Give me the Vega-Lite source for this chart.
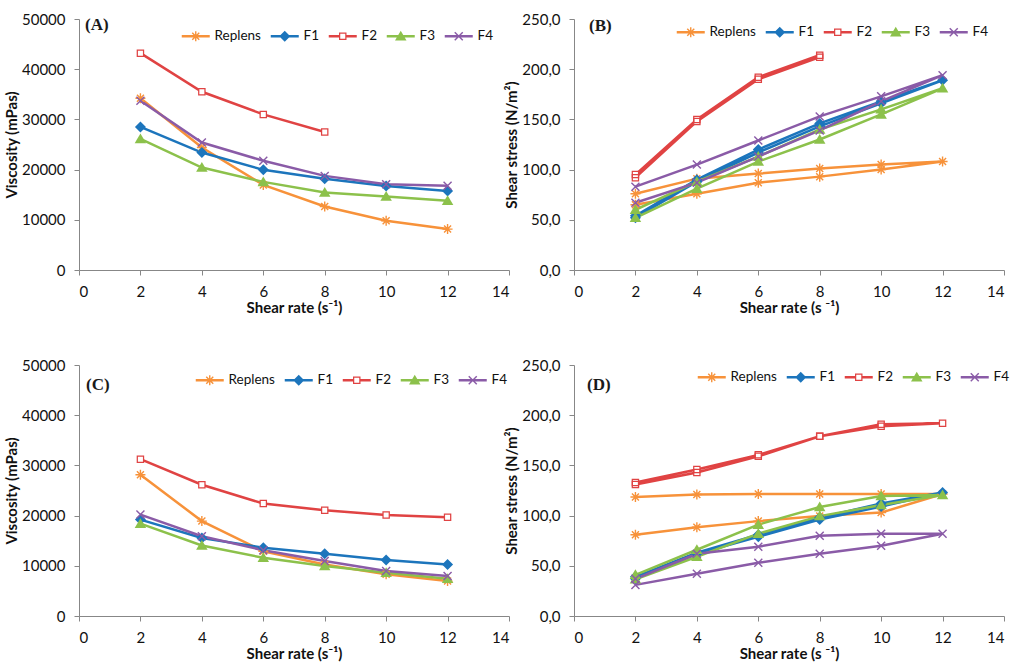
{
  "$schema": "https://vega.github.io/schema/vega-lite/v6.json",
  "background": "white",
  "padding": {"left": 4, "top": 12, "right": 5, "bottom": 5},
  "datasets": {
    "A": [
      {"series":"Replens","rate":2,"value":34200,"o":1},{"series":"Replens","rate":4,"value":24400,"o":2},{"series":"Replens","rate":6,"value":16950,"o":3},{"series":"Replens","rate":8,"value":12650,"o":4},{"series":"Replens","rate":10,"value":9800,"o":5},{"series":"Replens","rate":12,"value":8150,"o":6},
      {"series":"F1","rate":2,"value":28500,"o":1},{"series":"F1","rate":4,"value":23400,"o":2},{"series":"F1","rate":6,"value":19950,"o":3},{"series":"F1","rate":8,"value":18200,"o":4},{"series":"F1","rate":10,"value":16750,"o":5},{"series":"F1","rate":12,"value":15750,"o":6},
      {"series":"F2","rate":2,"value":43200,"o":1},{"series":"F2","rate":4,"value":35500,"o":2},{"series":"F2","rate":6,"value":31000,"o":3},{"series":"F2","rate":8,"value":27500,"o":4},
      {"series":"F3","rate":2,"value":26100,"o":1},{"series":"F3","rate":4,"value":20400,"o":2},{"series":"F3","rate":6,"value":17550,"o":3},{"series":"F3","rate":8,"value":15450,"o":4},{"series":"F3","rate":10,"value":14650,"o":5},{"series":"F3","rate":12,"value":13800,"o":6},
      {"series":"F4","rate":2,"value":33700,"o":1},{"series":"F4","rate":4,"value":25400,"o":2},{"series":"F4","rate":6,"value":21750,"o":3},{"series":"F4","rate":8,"value":18750,"o":4},{"series":"F4","rate":10,"value":17100,"o":5},{"series":"F4","rate":12,"value":16800,"o":6}
    ],
    "C": [
      {"series":"Replens","rate":2,"value":28150,"o":1},{"series":"Replens","rate":4,"value":18900,"o":2},{"series":"Replens","rate":6,"value":12900,"o":3},{"series":"Replens","rate":8,"value":10260,"o":4},{"series":"Replens","rate":10,"value":8300,"o":5},{"series":"Replens","rate":12,"value":6950,"o":6},
      {"series":"F1","rate":2,"value":19200,"o":1},{"series":"F1","rate":4,"value":15550,"o":2},{"series":"F1","rate":6,"value":13600,"o":3},{"series":"F1","rate":8,"value":12400,"o":4},{"series":"F1","rate":10,"value":11150,"o":5},{"series":"F1","rate":12,"value":10250,"o":6},
      {"series":"F2","rate":2,"value":31250,"o":1},{"series":"F2","rate":4,"value":26150,"o":2},{"series":"F2","rate":6,"value":22400,"o":3},{"series":"F2","rate":8,"value":21050,"o":4},{"series":"F2","rate":10,"value":20100,"o":5},{"series":"F2","rate":12,"value":19650,"o":6},
      {"series":"F3","rate":2,"value":18400,"o":1},{"series":"F3","rate":4,"value":14050,"o":2},{"series":"F3","rate":6,"value":11600,"o":3},{"series":"F3","rate":8,"value":9950,"o":4},{"series":"F3","rate":10,"value":8600,"o":5},{"series":"F3","rate":12,"value":7400,"o":6},
      {"series":"F4","rate":2,"value":20200,"o":1},{"series":"F4","rate":4,"value":15900,"o":2},{"series":"F4","rate":6,"value":13100,"o":3},{"series":"F4","rate":8,"value":10950,"o":4},{"series":"F4","rate":10,"value":8950,"o":5},{"series":"F4","rate":12,"value":7950,"o":6}
    ],
    "B": [
      {"series":"Replens","rate":2,"value":65,"o":1},{"series":"Replens","rate":4,"value":76,"o":2},{"series":"Replens","rate":6,"value":87,"o":3},{"series":"Replens","rate":8,"value":93,"o":4},{"series":"Replens","rate":10,"value":100,"o":5},{"series":"Replens","rate":12,"value":108,"o":6},{"series":"Replens","rate":10,"value":105,"o":7},{"series":"Replens","rate":8,"value":101,"o":8},{"series":"Replens","rate":6,"value":96,"o":9},{"series":"Replens","rate":4,"value":91,"o":10},{"series":"Replens","rate":2,"value":76,"o":11},
      {"series":"F1","rate":2,"value":52,"o":1},{"series":"F1","rate":4,"value":88,"o":2},{"series":"F1","rate":6,"value":117,"o":3},{"series":"F1","rate":8,"value":143,"o":4},{"series":"F1","rate":10,"value":166,"o":5},{"series":"F1","rate":12,"value":189,"o":6},{"series":"F1","rate":10,"value":168,"o":7},{"series":"F1","rate":8,"value":146,"o":8},{"series":"F1","rate":6,"value":120,"o":9},{"series":"F1","rate":4,"value":90,"o":10},{"series":"F1","rate":2,"value":54,"o":11},
      {"series":"F2","rate":2,"value":92,"o":1},{"series":"F2","rate":4,"value":148,"o":2},{"series":"F2","rate":6,"value":190,"o":3},{"series":"F2","rate":8,"value":212,"o":4},{"series":"F2","rate":8,"value":214,"o":5},{"series":"F2","rate":6,"value":192,"o":6},{"series":"F2","rate":4,"value":150,"o":7},{"series":"F2","rate":2,"value":95,"o":8},
      {"series":"F3","rate":2,"value":52,"o":1},{"series":"F3","rate":4,"value":81,"o":2},{"series":"F3","rate":6,"value":108,"o":3},{"series":"F3","rate":8,"value":130,"o":4},{"series":"F3","rate":10,"value":155,"o":5},{"series":"F3","rate":12,"value":181,"o":6},{"series":"F3","rate":10,"value":160,"o":7},{"series":"F3","rate":8,"value":140,"o":8},{"series":"F3","rate":6,"value":113,"o":9},{"series":"F3","rate":4,"value":88,"o":10},{"series":"F3","rate":2,"value":60,"o":11},
      {"series":"F4","rate":2,"value":67,"o":1},{"series":"F4","rate":4,"value":87,"o":2},{"series":"F4","rate":6,"value":113,"o":3},{"series":"F4","rate":8,"value":139,"o":4},{"series":"F4","rate":10,"value":168,"o":5},{"series":"F4","rate":12,"value":194,"o":6},{"series":"F4","rate":10,"value":173,"o":7},{"series":"F4","rate":8,"value":153,"o":8},{"series":"F4","rate":6,"value":129,"o":9},{"series":"F4","rate":4,"value":105,"o":10},{"series":"F4","rate":2,"value":83,"o":11}
    ],
    "D": [
      {"series":"Replens","rate":2,"value":81,"o":1},{"series":"Replens","rate":4,"value":88.5,"o":2},{"series":"Replens","rate":6,"value":94.5,"o":3},{"series":"Replens","rate":8,"value":99.5,"o":4},{"series":"Replens","rate":10,"value":103,"o":5},{"series":"Replens","rate":12,"value":121.5,"o":6},{"series":"Replens","rate":10,"value":121.5,"o":7},{"series":"Replens","rate":8,"value":121.5,"o":8},{"series":"Replens","rate":6,"value":121.5,"o":9},{"series":"Replens","rate":4,"value":121,"o":10},{"series":"Replens","rate":2,"value":118.5,"o":11},
      {"series":"F1","rate":2,"value":37,"o":1},{"series":"F1","rate":4,"value":62,"o":2},{"series":"F1","rate":6,"value":79,"o":3},{"series":"F1","rate":8,"value":96,"o":4},{"series":"F1","rate":10,"value":109,"o":5},{"series":"F1","rate":12,"value":123,"o":6},{"series":"F1","rate":10,"value":112,"o":7},{"series":"F1","rate":8,"value":98,"o":8},{"series":"F1","rate":6,"value":81,"o":9},{"series":"F1","rate":4,"value":63,"o":10},{"series":"F1","rate":2,"value":39,"o":11},
      {"series":"F2","rate":2,"value":131,"o":1},{"series":"F2","rate":4,"value":143,"o":2},{"series":"F2","rate":6,"value":159,"o":3},{"series":"F2","rate":8,"value":179,"o":4},{"series":"F2","rate":10,"value":189,"o":5},{"series":"F2","rate":12,"value":192,"o":6},{"series":"F2","rate":10,"value":191,"o":7},{"series":"F2","rate":8,"value":179,"o":8},{"series":"F2","rate":6,"value":160.5,"o":9},{"series":"F2","rate":4,"value":146,"o":10},{"series":"F2","rate":2,"value":133,"o":11},
      {"series":"F3","rate":2,"value":36.5,"o":1},{"series":"F3","rate":4,"value":59,"o":2},{"series":"F3","rate":6,"value":82,"o":3},{"series":"F3","rate":8,"value":99.5,"o":4},{"series":"F3","rate":10,"value":110.5,"o":5},{"series":"F3","rate":12,"value":120.5,"o":6},{"series":"F3","rate":10,"value":119.5,"o":7},{"series":"F3","rate":8,"value":108.5,"o":8},{"series":"F3","rate":6,"value":91,"o":9},{"series":"F3","rate":4,"value":66,"o":10},{"series":"F3","rate":2,"value":41,"o":11},
      {"series":"F4","rate":2,"value":31,"o":1},{"series":"F4","rate":4,"value":42,"o":2},{"series":"F4","rate":6,"value":53,"o":3},{"series":"F4","rate":8,"value":62,"o":4},{"series":"F4","rate":10,"value":70,"o":5},{"series":"F4","rate":12,"value":82,"o":6},{"series":"F4","rate":10,"value":82,"o":7},{"series":"F4","rate":8,"value":80,"o":8},{"series":"F4","rate":6,"value":69,"o":9},{"series":"F4","rate":4,"value":62,"o":10},{"series":"F4","rate":2,"value":37,"o":11}
    ]
  },
  "columns": 2,
  "spacing": {"row": 95, "column": 65},
  "bounds": "flush",
  "concat": [
    {
      "width": 430, "height": 251,
      "data": {"name": "A"},
      "title": {"text": "(A)", "anchor": "start", "frame": "group", "orient": "top", "offset": -35, "dx": 6, "baseline": "alphabetic", "font": "Liberation Serif", "fontSize": 17, "fontWeight": "bold", "color": "#1a1a1a"},
      "encoding": {
        "x": {"field": "rate", "type": "quantitative", "scale": {"domain": [0, 14], "nice": false}, "axis": {"values": [0,2,4,6,8,10,12,14], "title": "Shear rate (s⁻¹)"}},
        "y": {"field": "value", "type": "quantitative", "scale": {"domain": [0, 50000], "nice": false}, "axis": {"values": [0,10000,20000,30000,40000,50000], "format": "d", "title": "Viscosity (mPas)"}}
      },
      "layer": [
        {"mark": {"type": "line", "strokeWidth": 2.5}, "encoding": {"color": {"field": "series", "type": "nominal", "scale": {"domain": ["Replens","F1","F2","F3","F4"], "range": ["#F7923A","#1C75BC","#E04343","#8CC14B","#8A5BA7"]}, "legend": null}, "order": {"field": "o", "type": "quantitative"}}},
        {"transform": [{"filter": "datum.series === 'F2'"}], "mark": {"type": "point", "shape": "square", "filled": true, "color": "white", "opacity": 1, "size": 40}},
        {"mark": {"type": "point", "filled": true, "opacity": 1, "size": 100}, "encoding": {
          "color": {"field": "series", "type": "nominal", "scale": {"domain": ["Replens","F1","F2","F3","F4"], "range": ["#F7923A","#1C75BC","#E04343","#8CC14B","#8A5BA7"]}, "legend": null},
          "shape": {"field": "series", "type": "nominal", "scale": {"domain": ["Replens","F1","F2","F3","F4"], "range": [
            "M-1,0.14L1,0.14L1,-0.14L-1,-0.14ZM-0.14,-1L-0.14,1L0.14,1L0.14,-1ZM-0.8,-0.6L0.6,0.8L0.8,0.6L-0.6,-0.8ZM0.6,-0.8L-0.8,0.6L-0.6,0.8L0.8,-0.6Z",
            "M0,-1.1L-1.1,0L0,1.1L1.1,0Z",
            "M-0.75,-0.75L0.75,-0.75L0.75,0.75L-0.75,0.75ZM-0.5,-0.5L-0.5,0.5L0.5,0.5L0.5,-0.5Z",
            "M0,-1.1L-1.15,0.85L1.15,0.85Z",
            "M-0.9,-0.7L0.7,0.9L0.9,0.7L-0.7,-0.9ZM0.7,-0.9L-0.9,0.7L-0.7,0.9L0.9,-0.7Z"]}, "legend": null}}},
        {"mark": {"type": "point", "filled": true, "opacity": 0, "size": 100}, "encoding": {
          "color": {"field": "series", "type": "nominal", "scale": {"domain": ["Replens","F1","F2","F3","F4"], "range": ["#F7923A","#1C75BC","#E04343","#8CC14B","#8A5BA7"]}, "legend": {"orient": "none", "legendX": 110, "legendY": 10, "direction": "horizontal", "columns": 5, "title": null}},
          "shape": {"field": "series", "type": "nominal", "scale": {"domain": ["Replens","F1","F2","F3","F4"], "range": [
            "M-1,0.14L1,0.14L1,-0.14L-1,-0.14ZM-0.14,-1L-0.14,1L0.14,1L0.14,-1ZM-0.8,-0.6L0.6,0.8L0.8,0.6L-0.6,-0.8ZM0.6,-0.8L-0.8,0.6L-0.6,0.8L0.8,-0.6ZM-2.8,0.25L2.8,0.25L2.8,-0.25L-2.8,-0.25Z",
            "M0,-1.1L-1.1,0L0,1.1L1.1,0ZM-2.8,0.25L2.8,0.25L2.8,-0.25L-2.8,-0.25Z",
            "M-0.75,-0.75L0.75,-0.75L0.75,0.75L-0.75,0.75ZM-0.5,-0.5L-0.5,0.5L0.5,0.5L0.5,-0.5ZM-2.8,0.25L-0.75,0.25L-0.75,-0.25L-2.8,-0.25ZM0.75,0.25L2.8,0.25L2.8,-0.25L0.75,-0.25Z",
            "M0,-1.1L-1.15,0.85L1.15,0.85ZM-2.8,0.25L2.8,0.25L2.8,-0.25L-2.8,-0.25Z",
            "M-0.9,-0.7L0.7,0.9L0.9,0.7L-0.7,-0.9ZM0.7,-0.9L-0.9,0.7L-0.7,0.9L0.9,-0.7ZM-2.8,0.25L2.8,0.25L2.8,-0.25L-2.8,-0.25Z"]}, "legend": {"orient": "none", "legendX": 110, "legendY": 10, "direction": "horizontal", "columns": 5, "title": null}}}}
      ],
      "resolve": {"scale": {"color": "independent", "shape": "independent"}}
    },
    {
      "width": 430, "height": 251,
      "data": {"name": "B"},
      "title": {"text": "(B)", "anchor": "start", "frame": "group", "orient": "top", "offset": -36, "dx": 15, "baseline": "alphabetic", "font": "Liberation Serif", "fontSize": 17, "fontWeight": "bold", "color": "#1a1a1a"},
      "encoding": {
        "x": {"field": "rate", "type": "quantitative", "scale": {"domain": [0, 14], "nice": false}, "axis": {"values": [0,2,4,6,8,10,12,14], "title": "Shear rate (s ⁻¹)"}},
        "y": {"field": "value", "type": "quantitative", "scale": {"domain": [0, 250], "nice": false}, "axis": {"values": [0,50,100,150,200,250], "labelExpr": "replace(format(datum.value, '.1f'), '.', ',')", "title": "Shear stress (N/m²)"}}
      },
      "layer": [
        {"mark": {"type": "line", "strokeWidth": 2.5}, "encoding": {"color": {"field": "series", "type": "nominal", "scale": {"domain": ["Replens","F1","F2","F3","F4"], "range": ["#F7923A","#1C75BC","#E04343","#8CC14B","#8A5BA7"]}, "legend": null}, "order": {"field": "o", "type": "quantitative"}}},
        {"transform": [{"filter": "datum.series === 'F2'"}], "mark": {"type": "point", "shape": "square", "filled": true, "color": "white", "opacity": 1, "size": 40}},
        {"mark": {"type": "point", "filled": true, "opacity": 1, "size": 100}, "encoding": {
          "color": {"field": "series", "type": "nominal", "scale": {"domain": ["Replens","F1","F2","F3","F4"], "range": ["#F7923A","#1C75BC","#E04343","#8CC14B","#8A5BA7"]}, "legend": null},
          "shape": {"field": "series", "type": "nominal", "scale": {"domain": ["Replens","F1","F2","F3","F4"], "range": [
            "M-1,0.14L1,0.14L1,-0.14L-1,-0.14ZM-0.14,-1L-0.14,1L0.14,1L0.14,-1ZM-0.8,-0.6L0.6,0.8L0.8,0.6L-0.6,-0.8ZM0.6,-0.8L-0.8,0.6L-0.6,0.8L0.8,-0.6Z",
            "M0,-1.1L-1.1,0L0,1.1L1.1,0Z",
            "M-0.75,-0.75L0.75,-0.75L0.75,0.75L-0.75,0.75ZM-0.5,-0.5L-0.5,0.5L0.5,0.5L0.5,-0.5Z",
            "M0,-1.1L-1.15,0.85L1.15,0.85Z",
            "M-0.9,-0.7L0.7,0.9L0.9,0.7L-0.7,-0.9ZM0.7,-0.9L-0.9,0.7L-0.7,0.9L0.9,-0.7Z"]}, "legend": null}}},
        {"mark": {"type": "point", "filled": true, "opacity": 0, "size": 100}, "encoding": {
          "color": {"field": "series", "type": "nominal", "scale": {"domain": ["Replens","F1","F2","F3","F4"], "range": ["#F7923A","#1C75BC","#E04343","#8CC14B","#8A5BA7"]}, "legend": {"orient": "none", "legendX": 110, "legendY": 6, "direction": "horizontal", "columns": 5, "title": null}},
          "shape": {"field": "series", "type": "nominal", "scale": {"domain": ["Replens","F1","F2","F3","F4"], "range": [
            "M-1,0.14L1,0.14L1,-0.14L-1,-0.14ZM-0.14,-1L-0.14,1L0.14,1L0.14,-1ZM-0.8,-0.6L0.6,0.8L0.8,0.6L-0.6,-0.8ZM0.6,-0.8L-0.8,0.6L-0.6,0.8L0.8,-0.6ZM-2.8,0.25L2.8,0.25L2.8,-0.25L-2.8,-0.25Z",
            "M0,-1.1L-1.1,0L0,1.1L1.1,0ZM-2.8,0.25L2.8,0.25L2.8,-0.25L-2.8,-0.25Z",
            "M-0.75,-0.75L0.75,-0.75L0.75,0.75L-0.75,0.75ZM-0.5,-0.5L-0.5,0.5L0.5,0.5L0.5,-0.5ZM-2.8,0.25L-0.75,0.25L-0.75,-0.25L-2.8,-0.25ZM0.75,0.25L2.8,0.25L2.8,-0.25L0.75,-0.25Z",
            "M0,-1.1L-1.15,0.85L1.15,0.85ZM-2.8,0.25L2.8,0.25L2.8,-0.25L-2.8,-0.25Z",
            "M-0.9,-0.7L0.7,0.9L0.9,0.7L-0.7,-0.9ZM0.7,-0.9L-0.9,0.7L-0.7,0.9L0.9,-0.7ZM-2.8,0.25L2.8,0.25L2.8,-0.25L-2.8,-0.25Z"]}, "legend": {"orient": "none", "legendX": 110, "legendY": 6, "direction": "horizontal", "columns": 5, "title": null}}}}
      ],
      "resolve": {"scale": {"color": "independent", "shape": "independent"}}
    },
    {
      "width": 430, "height": 251,
      "data": {"name": "C"},
      "title": {"text": "(C)", "anchor": "start", "frame": "group", "orient": "top", "offset": -49, "dx": 7, "baseline": "alphabetic", "font": "Liberation Serif", "fontSize": 17, "fontWeight": "bold", "color": "#1a1a1a"},
      "encoding": {
        "x": {"field": "rate", "type": "quantitative", "scale": {"domain": [0, 14], "nice": false}, "axis": {"values": [0,2,4,6,8,10,12,14], "title": "Shear rate (s⁻¹)"}},
        "y": {"field": "value", "type": "quantitative", "scale": {"domain": [0, 50000], "nice": false}, "axis": {"values": [0,10000,20000,30000,40000,50000], "format": "d", "title": "Viscosity (mPas)"}}
      },
      "layer": [
        {"mark": {"type": "line", "strokeWidth": 2.5}, "encoding": {"color": {"field": "series", "type": "nominal", "scale": {"domain": ["Replens","F1","F2","F3","F4"], "range": ["#F7923A","#1C75BC","#E04343","#8CC14B","#8A5BA7"]}, "legend": null}, "order": {"field": "o", "type": "quantitative"}}},
        {"transform": [{"filter": "datum.series === 'F2'"}], "mark": {"type": "point", "shape": "square", "filled": true, "color": "white", "opacity": 1, "size": 40}},
        {"mark": {"type": "point", "filled": true, "opacity": 1, "size": 100}, "encoding": {
          "color": {"field": "series", "type": "nominal", "scale": {"domain": ["Replens","F1","F2","F3","F4"], "range": ["#F7923A","#1C75BC","#E04343","#8CC14B","#8A5BA7"]}, "legend": null},
          "shape": {"field": "series", "type": "nominal", "scale": {"domain": ["Replens","F1","F2","F3","F4"], "range": [
            "M-1,0.14L1,0.14L1,-0.14L-1,-0.14ZM-0.14,-1L-0.14,1L0.14,1L0.14,-1ZM-0.8,-0.6L0.6,0.8L0.8,0.6L-0.6,-0.8ZM0.6,-0.8L-0.8,0.6L-0.6,0.8L0.8,-0.6Z",
            "M0,-1.1L-1.1,0L0,1.1L1.1,0Z",
            "M-0.75,-0.75L0.75,-0.75L0.75,0.75L-0.75,0.75ZM-0.5,-0.5L-0.5,0.5L0.5,0.5L0.5,-0.5Z",
            "M0,-1.1L-1.15,0.85L1.15,0.85Z",
            "M-0.9,-0.7L0.7,0.9L0.9,0.7L-0.7,-0.9ZM0.7,-0.9L-0.9,0.7L-0.7,0.9L0.9,-0.7Z"]}, "legend": null}}},
        {"mark": {"type": "point", "filled": true, "opacity": 0, "size": 100}, "encoding": {
          "color": {"field": "series", "type": "nominal", "scale": {"domain": ["Replens","F1","F2","F3","F4"], "range": ["#F7923A","#1C75BC","#E04343","#8CC14B","#8A5BA7"]}, "legend": {"orient": "none", "legendX": 124, "legendY": 8, "direction": "horizontal", "columns": 5, "title": null}},
          "shape": {"field": "series", "type": "nominal", "scale": {"domain": ["Replens","F1","F2","F3","F4"], "range": [
            "M-1,0.14L1,0.14L1,-0.14L-1,-0.14ZM-0.14,-1L-0.14,1L0.14,1L0.14,-1ZM-0.8,-0.6L0.6,0.8L0.8,0.6L-0.6,-0.8ZM0.6,-0.8L-0.8,0.6L-0.6,0.8L0.8,-0.6ZM-2.8,0.25L2.8,0.25L2.8,-0.25L-2.8,-0.25Z",
            "M0,-1.1L-1.1,0L0,1.1L1.1,0ZM-2.8,0.25L2.8,0.25L2.8,-0.25L-2.8,-0.25Z",
            "M-0.75,-0.75L0.75,-0.75L0.75,0.75L-0.75,0.75ZM-0.5,-0.5L-0.5,0.5L0.5,0.5L0.5,-0.5ZM-2.8,0.25L-0.75,0.25L-0.75,-0.25L-2.8,-0.25ZM0.75,0.25L2.8,0.25L2.8,-0.25L0.75,-0.25Z",
            "M0,-1.1L-1.15,0.85L1.15,0.85ZM-2.8,0.25L2.8,0.25L2.8,-0.25L-2.8,-0.25Z",
            "M-0.9,-0.7L0.7,0.9L0.9,0.7L-0.7,-0.9ZM0.7,-0.9L-0.9,0.7L-0.7,0.9L0.9,-0.7ZM-2.8,0.25L2.8,0.25L2.8,-0.25L-2.8,-0.25Z"]}, "legend": {"orient": "none", "legendX": 124, "legendY": 8, "direction": "horizontal", "columns": 5, "title": null}}}}
      ],
      "resolve": {"scale": {"color": "independent", "shape": "independent"}}
    },
    {
      "width": 430, "height": 251,
      "data": {"name": "D"},
      "title": {"text": "(D)", "anchor": "start", "frame": "group", "orient": "top", "offset": -49, "dx": 13, "baseline": "alphabetic", "font": "Liberation Serif", "fontSize": 17, "fontWeight": "bold", "color": "#1a1a1a"},
      "encoding": {
        "x": {"field": "rate", "type": "quantitative", "scale": {"domain": [0, 14], "nice": false}, "axis": {"values": [0,2,4,6,8,10,12,14], "title": "Shear rate (s ⁻¹)"}},
        "y": {"field": "value", "type": "quantitative", "scale": {"domain": [0, 250], "nice": false}, "axis": {"values": [0,50,100,150,200,250], "labelExpr": "replace(format(datum.value, '.1f'), '.', ',')", "title": "Shear stress (N/m²)"}}
      },
      "layer": [
        {"mark": {"type": "line", "strokeWidth": 2.5}, "encoding": {"color": {"field": "series", "type": "nominal", "scale": {"domain": ["Replens","F1","F2","F3","F4"], "range": ["#F7923A","#1C75BC","#E04343","#8CC14B","#8A5BA7"]}, "legend": null}, "order": {"field": "o", "type": "quantitative"}}},
        {"transform": [{"filter": "datum.series === 'F2'"}], "mark": {"type": "point", "shape": "square", "filled": true, "color": "white", "opacity": 1, "size": 40}},
        {"mark": {"type": "point", "filled": true, "opacity": 1, "size": 100}, "encoding": {
          "color": {"field": "series", "type": "nominal", "scale": {"domain": ["Replens","F1","F2","F3","F4"], "range": ["#F7923A","#1C75BC","#E04343","#8CC14B","#8A5BA7"]}, "legend": null},
          "shape": {"field": "series", "type": "nominal", "scale": {"domain": ["Replens","F1","F2","F3","F4"], "range": [
            "M-1,0.14L1,0.14L1,-0.14L-1,-0.14ZM-0.14,-1L-0.14,1L0.14,1L0.14,-1ZM-0.8,-0.6L0.6,0.8L0.8,0.6L-0.6,-0.8ZM0.6,-0.8L-0.8,0.6L-0.6,0.8L0.8,-0.6Z",
            "M0,-1.1L-1.1,0L0,1.1L1.1,0Z",
            "M-0.75,-0.75L0.75,-0.75L0.75,0.75L-0.75,0.75ZM-0.5,-0.5L-0.5,0.5L0.5,0.5L0.5,-0.5Z",
            "M0,-1.1L-1.15,0.85L1.15,0.85Z",
            "M-0.9,-0.7L0.7,0.9L0.9,0.7L-0.7,-0.9ZM0.7,-0.9L-0.9,0.7L-0.7,0.9L0.9,-0.7Z"]}, "legend": null}}},
        {"mark": {"type": "point", "filled": true, "opacity": 0, "size": 100}, "encoding": {
          "color": {"field": "series", "type": "nominal", "scale": {"domain": ["Replens","F1","F2","F3","F4"], "range": ["#F7923A","#1C75BC","#E04343","#8CC14B","#8A5BA7"]}, "legend": {"orient": "none", "legendX": 131, "legendY": 5, "direction": "horizontal", "columns": 5, "title": null}},
          "shape": {"field": "series", "type": "nominal", "scale": {"domain": ["Replens","F1","F2","F3","F4"], "range": [
            "M-1,0.14L1,0.14L1,-0.14L-1,-0.14ZM-0.14,-1L-0.14,1L0.14,1L0.14,-1ZM-0.8,-0.6L0.6,0.8L0.8,0.6L-0.6,-0.8ZM0.6,-0.8L-0.8,0.6L-0.6,0.8L0.8,-0.6ZM-2.8,0.25L2.8,0.25L2.8,-0.25L-2.8,-0.25Z",
            "M0,-1.1L-1.1,0L0,1.1L1.1,0ZM-2.8,0.25L2.8,0.25L2.8,-0.25L-2.8,-0.25Z",
            "M-0.75,-0.75L0.75,-0.75L0.75,0.75L-0.75,0.75ZM-0.5,-0.5L-0.5,0.5L0.5,0.5L0.5,-0.5ZM-2.8,0.25L-0.75,0.25L-0.75,-0.25L-2.8,-0.25ZM0.75,0.25L2.8,0.25L2.8,-0.25L0.75,-0.25Z",
            "M0,-1.1L-1.15,0.85L1.15,0.85ZM-2.8,0.25L2.8,0.25L2.8,-0.25L-2.8,-0.25Z",
            "M-0.9,-0.7L0.7,0.9L0.9,0.7L-0.7,-0.9ZM0.7,-0.9L-0.9,0.7L-0.7,0.9L0.9,-0.7ZM-2.8,0.25L2.8,0.25L2.8,-0.25L-2.8,-0.25Z"]}, "legend": {"orient": "none", "legendX": 131, "legendY": 5, "direction": "horizontal", "columns": 5, "title": null}}}}
      ],
      "resolve": {"scale": {"color": "independent", "shape": "independent"}}
    }
  ],
  "resolve": {"scale": {"color": "independent", "shape": "independent"}, "legend": {"color": "independent", "shape": "independent"}},
  "config": {
    "font": "Lato",
    "view": {"stroke": null},
    "axis": {"grid": false, "domainColor": "#878787", "tickColor": "#878787", "tickSize": 5, "labelFont": "Lato", "labelFontSize": 15, "labelColor": "#111111", "labelPadding": 9, "titleFont": "Lato", "titleFontSize": 15, "titleFontWeight": "bold", "titleColor": "#111111"},
    "axisX": {"titlePadding": 1},
    "axisY": {"titlePadding": 2, "labelPadding": 9},
    "legend": {"symbolSize": 100, "labelFont": "Lato", "labelFontSize": 13.5, "labelColor": "#111111", "labelOffset": 12, "columnPadding": 9, "symbolOpacity": 1, "padding": 0, "symbolStrokeWidth": 0}
  }
}
